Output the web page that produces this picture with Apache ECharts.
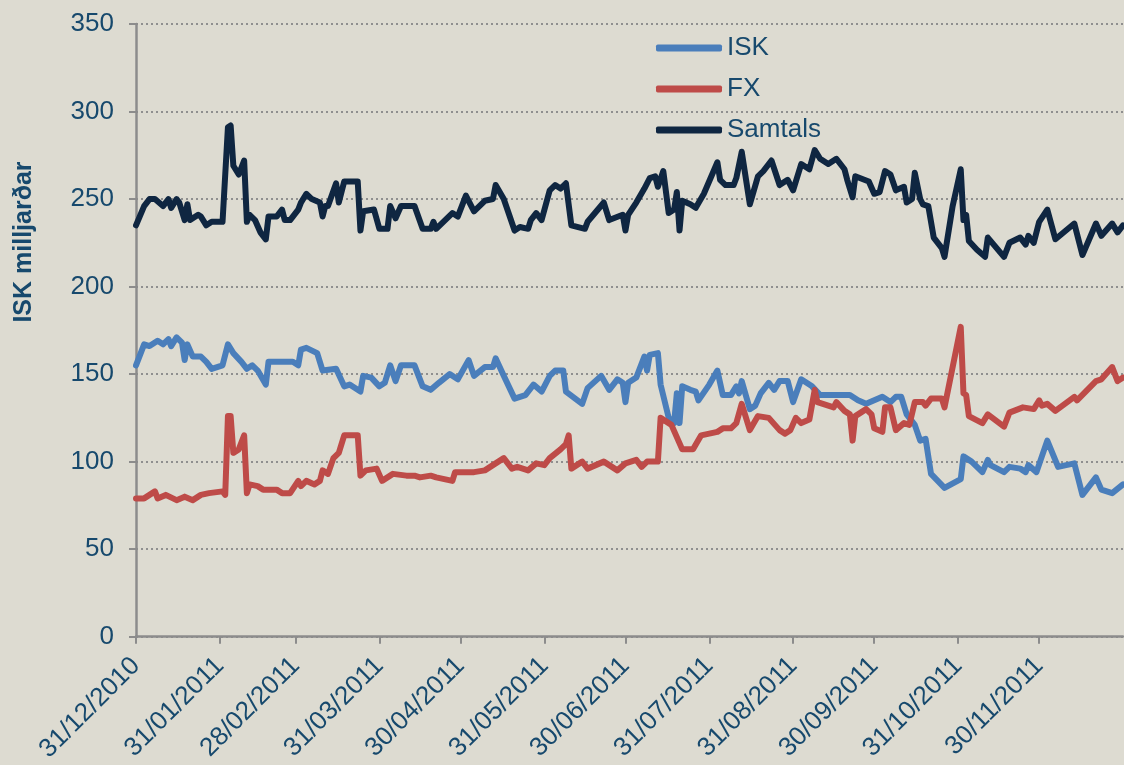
<!DOCTYPE html>
<html>
<head>
<meta charset="utf-8">
<script src="https://cdn.jsdelivr.net/npm/echarts@6/dist/echarts.min.js"></script>
<style>
  html, body { margin: 0; padding: 0; background: #dddbd1; }
  #chart { width: 1124px; height: 765px; }
</style>
</head>
<body>
<div id="chart"></div>
<script>
// month-end ticks on the x axis
const tickLabels = ["31/12/2010", "31/01/2011", "28/02/2011", "31/03/2011", "30/04/2011", "31/05/2011",
  "30/06/2011", "31/07/2011", "31/08/2011", "30/09/2011", "31/10/2011", "30/11/2011"];

// days counted from 31/12/2010, values in ISK milljarðar
const samtalsDays = [0,3,5,7,10,12,13,15,16,18,19,20,23,24,26,28,32,34,35,36,38,40,41,42,44,46,48,49,52,54,
  55,57,60,61,63,65,68,69,70,71,74,75,77,82,83,84,88,90,93,94,96,98,103,106,109,110,111,117,119,122,
  125,129,132,133,136,140,142,145,146,148,150,153,155,157,159,161,166,167,173,175,180,181,182,185,188,190,192,193,195,197,
  199,200,201,202,205,207,210,215,216,218,221,222,224,227,230,232,235,238,241,243,246,249,251,253,256,259,262,263,265,266,
  271,273,275,277,279,281,284,285,287,288,290,291,293,295,298,299,302,305,306,307,308,311,314,315,321,323,327,329,330,332,
  334,337,340,347,350,355,357,361,363,365];
const samtalsValues = [235,246,250,250,246,250,245,250,248,238,247,238,241,240,235,237,237,291,292,269,
  264,272,237,241,238,231,227,240,240,244,238,238,244,248,253,250,248,240,246,246,
  259,248,260,260,232,243,244,233,233,246,239,246,246,233,233,237,233,242,240,252,
  243,249,250,258,250,232,234,233,238,242,238,255,258,256,259,235,233,237,248,238,
  241,232,241,248,256,262,263,257,266,242,244,254,232,249,247,245,253,271,261,258,
  258,262,277,247,263,266,272,258,261,255,270,267,278,273,270,273,267,261,251,263,
  260,253,254,266,264,255,257,248,250,265,250,247,246,228,222,217,246,267,238,241,
  226,221,217,228,217,225,228,224,229,225,237,244,227,236,218,236,229,236,231,235];

const iskDays = [0,3,5,8,10,12,13,15,17,18,19,21,24,26,28,32,34,36,39,41,
  43,45,48,49,58,60,61,63,67,69,74,77,79,80,83,84,87,90,92,94,
  96,98,103,106,109,112,116,119,123,125,129,132,133,136,140,144,147,150,153,155,
  158,159,165,167,172,175,178,180,181,182,185,188,189,190,193,194,197,199,200,201,
  202,205,207,208,212,215,217,220,222,223,224,227,229,231,234,236,238,241,243,246,
  250,253,257,264,267,270,273,276,279,281,283,285,288,290,292,294,299,305,306,309,
  313,315,316,321,323,327,329,330,333,337,341,347,350,355,357,361,365];
const iskValues = [155,167,166,169,167,170,166,171,168,158,167,160,160,157,153,155,167,162,157,153,
  155,152,144,157,157,155,164,165,162,152,153,143,144,143,140,149,148,143,145,155,
  146,155,155,143,141,145,150,147,158,149,154,154,159,149,136,138,144,140,149,152,
  152,140,133,142,149,141,147,145,134,145,148,160,152,161,162,144,125,122,139,122,
  143,141,140,135,144,152,138,138,143,139,146,130,132,139,145,141,146,146,134,147,
  143,138,138,138,135,133,135,137,134,137,137,127,121,112,113,93,85,90,103,100,
  94,101,98,94,97,96,94,98,94,112,97,99,81,91,84,82,87];

const fxDays = [0,3,5,7,8,11,15,18,21,24,27,32,33,34,35,36,38,40,41,42,
  45,47,52,54,57,60,61,63,66,68,69,71,73,75,77,82,83,85,89,91,
  95,100,103,105,109,111,117,118,125,129,132,136,139,141,145,148,151,153,157,159,
  160,161,165,167,173,178,181,185,187,189,193,194,198,202,206,209,215,217,220,222,
  224,227,230,234,238,240,242,244,246,249,251,252,256,258,259,262,264,265,266,270,
  272,273,276,277,279,281,284,286,288,291,292,294,298,299,305,306,307,308,313,315,
  321,323,328,332,334,335,337,340,347,348,355,357,361,363,365];
const fxValues = [79,79,81,83,79,81,78,80,78,81,82,83,81,126,126,105,107,115,82,87,
  86,84,84,82,82,89,86,89,87,89,95,93,102,105,115,115,92,95,96,89,
  93,92,92,91,92,91,89,94,94,95,98,102,96,97,95,99,98,102,107,110,
  115,96,100,96,100,95,99,101,97,100,100,125,121,107,107,115,117,119,119,122,
  133,118,126,125,118,116,118,125,122,124,141,134,132,131,134,129,127,112,126,130,
  127,119,117,131,131,118,122,121,134,134,132,136,136,131,177,139,138,126,122,127,
  120,128,131,130,135,132,133,129,137,135,146,147,154,146,148];

const DAY = 86400000;
const base = Date.UTC(2010, 11, 31);
// tick positions as day offsets from the first date
const tickDays = tickLabels.map(s => {
  const p = s.split("/");
  return Math.round((Date.UTC(+p[2], +p[1] - 1, +p[0]) - base) / DAY);
});
const toSeries = (days, vals) => days.map((d, i) => [d, vals[i]]);

const textColor = "#17496d";
const axisColor = "#8c8c8c";
const fontFamily = "Liberation Sans, Arial, sans-serif";

let myChart = echarts.init(document.getElementById("chart"));

let option = {
  backgroundColor: "#dddbd1",
  animation: false,
  textStyle: { fontFamily: fontFamily },
  grid: { left: 136, right: 1, top: 24, bottom: 126, containLabel: false },
  legend: {
    orient: "vertical",
    left: 651,
    top: 30,
    itemWidth: 66,
    itemHeight: 7,
    itemGap: 15,
    icon: "roundRect",
    textStyle: { color: textColor, fontSize: 26, fontFamily: fontFamily },
    data: ["ISK", "FX", "Samtals"],
  },
  graphic: [
    {
      type: "text",
      x: 24,
      y: 242,
      rotation: Math.PI / 2,
      style: {
        text: "ISK milljarðar",
        fill: textColor,
        font: "bold 25px " + fontFamily,
        align: "center",
        verticalAlign: "middle",
      },
    },
  ],
  xAxis: {
    type: "value",
    min: 0,
    max: 365,
    axisLine: { show: true, lineStyle: { color: axisColor, width: 2.5 } },
    axisTick: {
      show: true,
      customValues: tickDays,
      length: 7,
      lineStyle: { color: axisColor, width: 2 },
    },
    axisLabel: {
      customValues: tickDays,
      rotate: 45,
      margin: 25,
      color: textColor,
      fontSize: 26,
      fontFamily: fontFamily,
      formatter: function (v) {
        let idx = tickDays.indexOf(Math.round(v));
        return idx >= 0 ? tickLabels[idx] : "";
      },
    },
    splitLine: { show: false },
  },
  yAxis: {
    type: "value",
    min: 0,
    max: 350,
    interval: 50,
    axisLine: { show: true, lineStyle: { color: axisColor, width: 2.5 } },
    axisTick: { show: true, length: 7, lineStyle: { color: axisColor, width: 2 } },
    axisLabel: { color: textColor, fontSize: 26, margin: 22, fontFamily: fontFamily },
    splitLine: { show: true, lineStyle: { color: "#8f8f8f", width: 2, type: [2, 3] } },
  },
  series: [
    {
      name: "ISK",
      type: "line",
      showSymbol: false,
      color: "#4a7ebb",
      lineStyle: { width: 6, cap: "round", join: "round" },
      data: toSeries(iskDays, iskValues),
    },
    {
      name: "FX",
      type: "line",
      showSymbol: false,
      color: "#be4b48",
      lineStyle: { width: 6, cap: "round", join: "round" },
      data: toSeries(fxDays, fxValues),
    },
    {
      name: "Samtals",
      type: "line",
      showSymbol: false,
      color: "#0f2641",
      lineStyle: { width: 6, cap: "round", join: "round" },
      data: toSeries(samtalsDays, samtalsValues),
    },
  ],
};

myChart.setOption(option);
</script>
</body>
</html>
